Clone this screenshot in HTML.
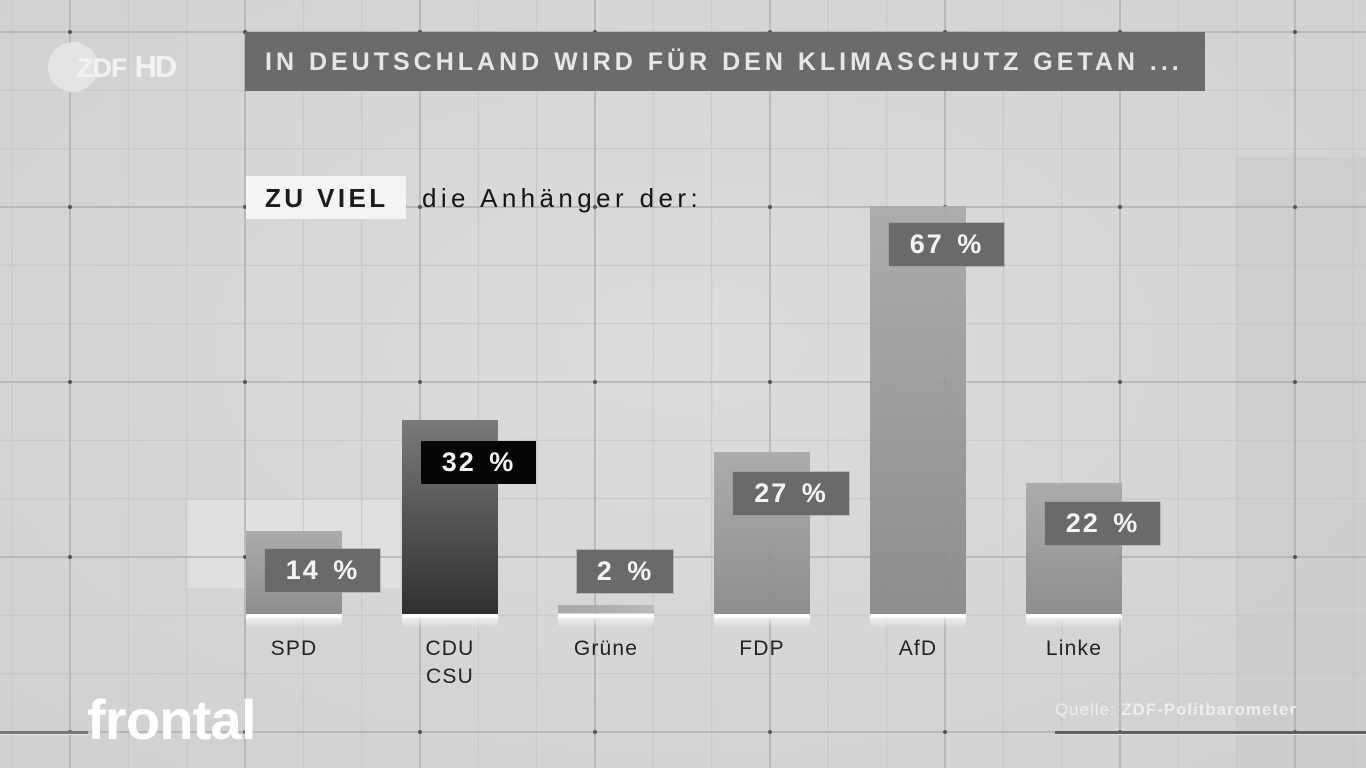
<!DOCTYPE html>
<html><head><meta charset="utf-8">
<style>
html,body{margin:0;padding:0;}
body{width:1366px;height:768px;overflow:hidden;position:relative;background:#d5d5d5;font-family:"Liberation Sans",sans-serif;}
.abs{position:absolute;}
.bar{position:absolute;width:96px;}
.lbl{position:absolute;height:43px;background:#6a6a6a;color:#f4f4f4;font-weight:bold;font-size:27px;letter-spacing:2px;word-spacing:4px;line-height:43px;text-align:center;box-shadow:0 0 0 1px rgba(150,150,150,0.5);}
.glow{position:absolute;width:96px;height:14px;top:614px;background:linear-gradient(#ffffff 0,#ffffff 3px,rgba(255,255,255,0.5) 5px,rgba(255,255,255,0) 14px);}
.cat{position:absolute;width:140px;text-align:center;font-size:21px;letter-spacing:1.2px;color:#222;line-height:28px;}
</style></head><body>
<svg class="abs" style="left:0;top:0" width="1366" height="768">
<defs>
<radialGradient id="bg" cx="0.5" cy="0.45" r="0.75">
<stop offset="0" stop-color="#dcdcdc"/><stop offset="1" stop-color="#d0d0d0"/>
</radialGradient>
<pattern id="minor" patternUnits="userSpaceOnUse" x="-17.5" y="2.83" width="58.333" height="58.333">
<line x1="29.17" y1="0" x2="29.17" y2="58.333" stroke="#c6c6c6" stroke-width="1"/>
<line x1="0" y1="29.17" x2="58.333" y2="29.17" stroke="#c6c6c6" stroke-width="1"/>
</pattern>
<pattern id="major" patternUnits="userSpaceOnUse" x="-17.5" y="-55.5" width="175" height="175">
<line x1="87.5" y1="0" x2="87.5" y2="175" stroke="#a0a0a0" stroke-width="1"/>
<line x1="0" y1="87.5" x2="175" y2="87.5" stroke="#a0a0a0" stroke-width="1"/>
<circle cx="87.5" cy="87.5" r="2" fill="#555"/>
</pattern>
</defs>
<rect width="1366" height="768" fill="url(#bg)"/>
<rect x="187" y="500" width="213" height="88" fill="#e0e0e0"/>
<rect x="1237" y="157" width="129" height="611" fill="#c9c9c9" opacity="0.6"/>
<rect width="1366" height="768" fill="url(#minor)"/>
<rect width="1366" height="768" fill="url(#major)"/>
</svg>

<!-- ZDF HD logo -->
<div class="abs" style="left:48px;top:42px;width:50px;height:50px;border-radius:50%;background:#e4e4e4;"></div>
<div class="abs" style="left:77px;top:51px;font-size:27px;font-weight:bold;color:#f2f2f2;letter-spacing:-1px;line-height:32px;white-space:nowrap;">ZDF<span style="font-size:31px;letter-spacing:-2px;margin-left:8px;">HD</span></div>

<!-- Title -->
<div class="abs" style="left:245px;top:32px;width:960px;height:59px;background:#6b6b6b;"></div>
<div class="abs" style="left:265px;top:32px;height:59px;line-height:60px;font-size:25px;font-weight:bold;letter-spacing:4px;color:#e6e6e6;white-space:nowrap;">IN DEUTSCHLAND WIRD FÜR DEN KLIMASCHUTZ GETAN ...</div>

<!-- Subtitle -->
<div class="abs" style="left:246px;top:176px;width:160px;height:43px;background:#f4f4f4;"></div>
<div class="abs" style="left:265px;top:176px;height:43px;line-height:44px;font-size:26px;font-weight:bold;letter-spacing:3.4px;color:#1c1c1c;white-space:nowrap;">ZU VIEL</div>
<div class="abs" style="left:422px;top:176px;height:43px;line-height:44px;font-size:26px;letter-spacing:4.4px;color:#151515;white-space:nowrap;">die Anhänger der:</div>

<!-- Bars -->
<div class="bar" style="left:246px;top:531px;height:84px;background:linear-gradient(#a9a9a9,#8a8a8a);opacity:0.95;"></div>
<div class="bar" style="left:402px;top:420px;height:195px;background:linear-gradient(#7a7a7a,#555 50%,#303030);"></div>
<div class="bar" style="left:558px;top:605px;height:8px;background:linear-gradient(90deg,#a8a8a8,#b8b8b8);"></div>
<div class="bar" style="left:714px;top:452px;height:163px;background:linear-gradient(#aaaaaa,#8b8b8b);opacity:0.95;"></div>
<div class="bar" style="left:870px;top:206px;height:409px;background:linear-gradient(#aaaaaa,#8a8a8a);opacity:0.95;"></div>
<div class="bar" style="left:1026px;top:483px;height:132px;background:linear-gradient(#aaaaaa,#8b8b8b);opacity:0.95;"></div>

<div class="glow" style="left:246px"></div>
<div class="glow" style="left:402px"></div>
<div class="glow" style="left:558px"></div>
<div class="glow" style="left:714px"></div>
<div class="glow" style="left:870px"></div>
<div class="glow" style="left:1026px"></div>

<!-- Value labels -->
<div class="lbl" style="left:265px;top:549px;width:115px;">14 %</div>
<div class="lbl" style="left:421px;top:441px;width:115px;background:#050505;box-shadow:none;">32 %</div>
<div class="lbl" style="left:577px;top:550px;width:96px;">2 %</div>
<div class="lbl" style="left:733px;top:472px;width:116px;">27 %</div>
<div class="lbl" style="left:889px;top:223px;width:115px;">67 %</div>
<div class="lbl" style="left:1045px;top:502px;width:115px;">22 %</div>

<!-- Category labels -->
<div class="cat" style="left:224px;top:635px;">SPD</div>
<div class="cat" style="left:380px;top:635px;">CDU<br>CSU</div>
<div class="cat" style="left:536px;top:635px;">Grüne</div>
<div class="cat" style="left:692px;top:635px;">FDP</div>
<div class="cat" style="left:848px;top:635px;">AfD</div>
<div class="cat" style="left:1004px;top:635px;">Linke</div>

<!-- Footer -->
<div class="abs" style="left:0;top:731px;width:88px;height:3px;background:#787878;"></div>
<div class="abs" style="left:0;top:734px;width:88px;height:1px;background:#e8e8e8;"></div>
<div class="abs" style="left:87px;top:689px;font-size:56px;font-weight:bold;letter-spacing:-0.8px;color:#ffffff;line-height:62px;">frontal</div>

<div class="abs" style="left:1055px;top:700px;font-size:17px;letter-spacing:0.95px;color:#ededed;white-space:nowrap;line-height:20px;">Quelle: <b>ZDF-Politbarometer</b></div>
<div class="abs" style="left:1055px;top:731px;width:311px;height:3px;background:#5e5e5e;"></div>
<div class="abs" style="left:1055px;top:734px;width:311px;height:1px;background:#e6e6e6;"></div>
</body></html>
